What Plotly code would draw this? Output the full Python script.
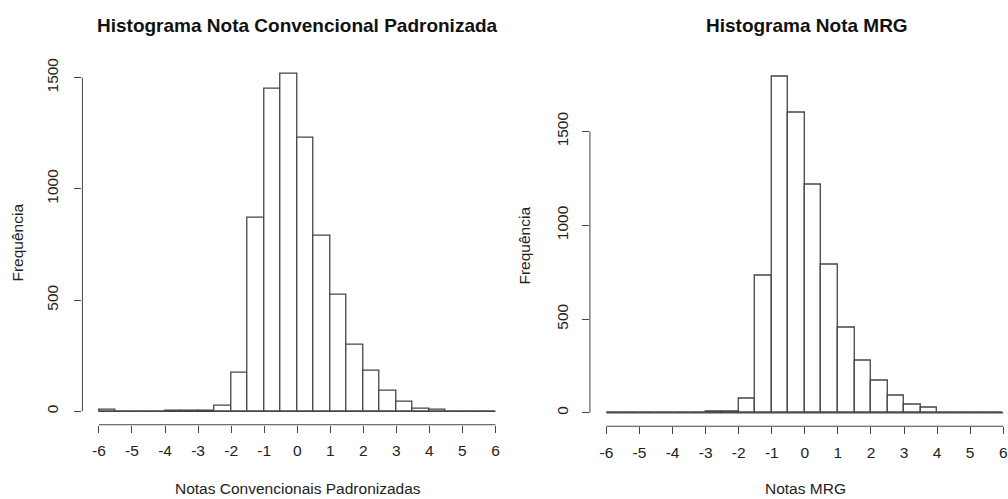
import plotly.graph_objects as go

# ---- data ----
breaks = [-6.0, -5.5, -5.0, -4.5, -4.0, -3.5, -3.0, -2.5, -2.0, -1.5, -1.0, -0.5,
          0.0, 0.5, 1.0, 1.5, 2.0, 2.5, 3.0, 3.5, 4.0, 4.5, 5.0, 5.5, 6.0]
counts_conv = [5, 0, 0, 0, 2, 3, 4, 25, 175, 870, 1450, 1515,
               1230, 790, 525, 300, 183, 92, 43, 10, 5, 0, 0, 0]
counts_mrg = [0, 0, 0, 0, 0, 0, 4, 6, 76, 730, 1790, 1600,
              1215, 790, 455, 280, 170, 94, 44, 27, 0, 0, 0, 0]
x_ticks = [-6, -5, -4, -3, -2, -1, 0, 1, 2, 3, 4, 5, 6]
x_tick_labels = ["-6", "-5", "-4", "-3", "-2", "-1", "0", "1", "2", "3", "4", "5", "6"]
y_ticks = [0, 500, 1000, 1500]
y_tick_labels = ["0", "500", "1000", "1500"]
title_conv = "Histograma Nota Convencional Padronizada"
title_mrg = "Histograma Nota MRG"
xlab_conv = "Notas Convencionais Padronizadas"
xlab_mrg = "Notas MRG"
ylab = "Frequência"

W, H = 1008, 499
FONT = "Liberation Sans, Arial, sans-serif"
LINE = "#444444"
TXT = "#222222"

centers = [(breaks[i] + breaks[i + 1]) / 2 for i in range(len(breaks) - 1)]
widths = [breaks[i + 1] - breaks[i] for i in range(len(breaks) - 1)]

fig = go.Figure()
for counts, xa, ya in [(counts_conv, "x", "y"), (counts_mrg, "x2", "y2")]:
    fig.add_trace(go.Bar(
        x=centers, y=counts, width=widths, xaxis=xa, yaxis=ya,
        marker=dict(color="white", line=dict(color=LINE, width=1.3)),
        hoverinfo="skip", showlegend=False))


def px_x(p):
    return p / W


def px_y(p):
    return 1 - p / H


ax_common = dict(showgrid=False, zeroline=False, showline=False, ticks="outside",
                 ticklen=7, tickwidth=1, tickcolor=LINE, ticklabeloverflow="allow",
                 tickfont=dict(family=FONT, size=15.5, color=TXT))

ymax1 = max(counts_conv)
ymax2 = max(counts_mrg)

xcommon = dict(tickmode="array", tickvals=x_ticks, ticktext=x_tick_labels, ticklabelstandoff=5)
ycommon = dict(tickmode="array", tickvals=y_ticks, ticktext=y_tick_labels, tickangle=-90)

fig.update_layout(
    width=W, height=H, margin=dict(l=0, r=0, t=0, b=0),
    paper_bgcolor="white", plot_bgcolor="white", bargap=0,
    xaxis=dict(domain=[px_x(82.5), px_x(512.5)], range=[-6.5, 6.5], anchor="y",
               **xcommon, **ax_common),
    yaxis=dict(domain=[px_y(424.3), px_y(58.1)], range=[-0.04 * ymax1, 1.04 * ymax1],
               anchor="x", ticklabelstandoff=10, **ycommon, **ax_common),
    xaxis2=dict(domain=[px_x(590.5), 1.0], range=[-6.5, -6.5 + (W - 590.5) / 33.1],
                anchor="y2", **xcommon, **ax_common),
    yaxis2=dict(domain=[px_y(425.8), px_y(61.0)], range=[-0.04 * ymax2, 1.04 * ymax2],
                anchor="x2", ticklabelstandoff=8, **ycommon, **ax_common),
)

shapes = []
for xa, ya in [("x", "y"), ("x2", "y2")]:
    # x axis line (first to last tick)
    shapes.append(dict(type="line", xref=xa, yref=ya + " domain", x0=x_ticks[0], x1=x_ticks[-1],
                       y0=0, y1=0, line=dict(color=LINE, width=1)))
    # y axis line (first to last tick)
    shapes.append(dict(type="line", xref=xa + " domain", yref=ya, x0=0, x1=0,
                       y0=y_ticks[0], y1=y_ticks[-1], line=dict(color=LINE, width=1)))
    # baseline of histogram bins
    shapes.append(dict(type="line", xref=xa, yref=ya, x0=breaks[0], x1=breaks[-1],
                       y0=0, y1=0, line=dict(color=LINE, width=1.3)))
fig.update_layout(shapes=shapes)

ann = []
for txt, cx in [(title_conv, 297.5), (title_mrg, 807.5)]:
    ann.append(dict(text="<b>" + txt + "</b>", x=px_x(cx), y=px_y(23), xref="paper", yref="paper",
                    showarrow=False, xanchor="center", yanchor="middle",
                    font=dict(family=FONT, size=19, color="#111111")))
for txt, cx in [(xlab_conv, 298.5), (xlab_mrg, 806.5)]:
    ann.append(dict(text=txt, x=px_x(cx), y=px_y(488), xref="paper", yref="paper",
                    showarrow=False, xanchor="center", yanchor="middle",
                    font=dict(family=FONT, size=15.5, color=TXT)))
for cx, cy in [(18, 241), (525, 243.5)]:
    ann.append(dict(text=ylab, x=px_x(cx), y=px_y(cy), xref="paper", yref="paper", textangle=-90,
                    showarrow=False, xanchor="center", yanchor="middle",
                    font=dict(family=FONT, size=15.5, color=TXT)))
fig.update_layout(annotations=ann)

fig.write_html("out.html")
